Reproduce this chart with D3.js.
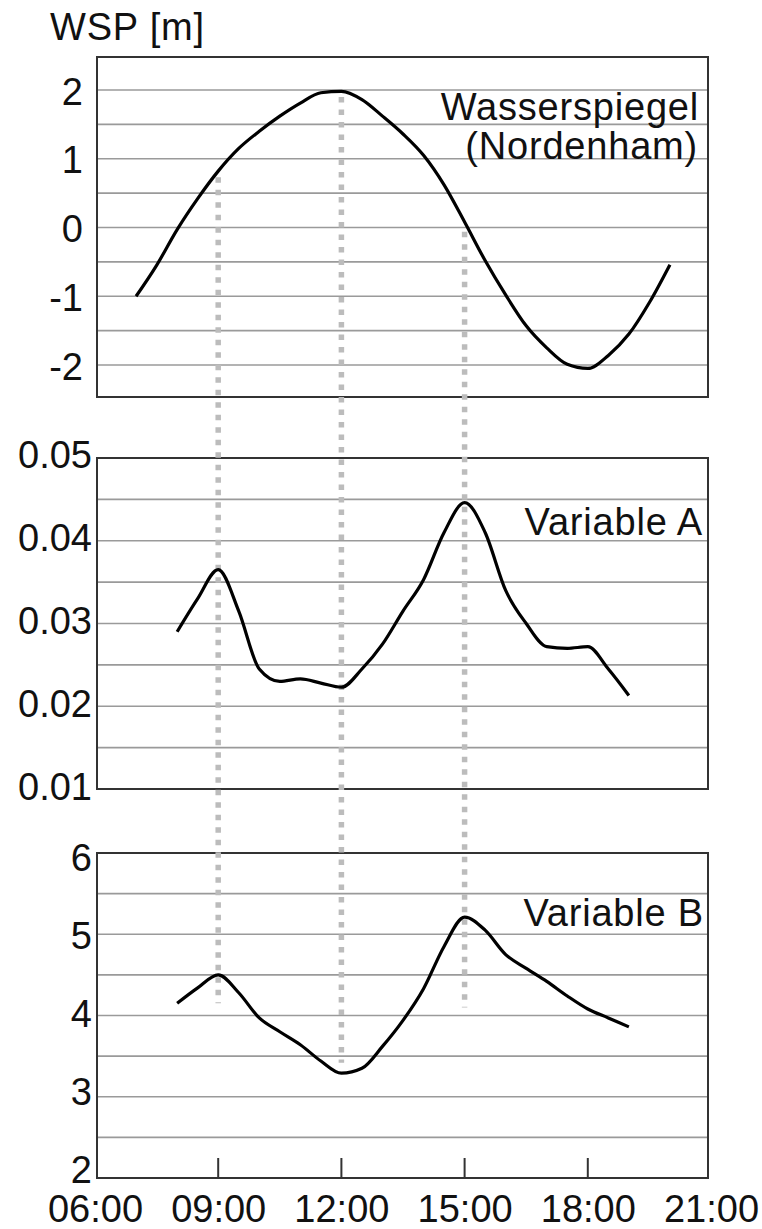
<!DOCTYPE html>
<html>
<head>
<meta charset="utf-8">
<script src="https://cdn.jsdelivr.net/npm/d3@7"></script>
<style>
    body { margin: 0; background: #fff; }
    svg { display: block; font-family: "Liberation Sans", Arial, Helvetica, sans-serif; }
</style>
</head>
<body>
<script>
// time of day in hours
var x_ticks = [6, 9, 12, 15, 18, 21];
var x_inner_ticks = [9, 12, 15, 18];

// Wasserspiegel (Nordenham), half hourly
var wsp_times = [7, 7.5, 8, 8.5, 9, 9.5, 10, 10.5, 11, 11.5, 12, 12.5, 13, 13.5,
    14, 14.5, 15, 15.5, 16, 16.5, 17, 17.5, 18, 18.5, 19, 19.5, 20];
var wsp_values = [-1.0, -0.55, -0.03, 0.42, 0.82, 1.15, 1.40, 1.62, 1.81, 1.96, 1.98, 1.86, 1.62, 1.36,
    1.05, 0.62, 0.08, -0.48, -0.98, -1.43, -1.75, -1.99, -2.05, -1.86, -1.55, -1.09, -0.54];

// Variable A / B, half hourly
var var_times = [8, 8.5, 9, 9.5, 10, 10.5, 11, 11.5, 12, 12.5, 13, 13.5,
    14, 14.5, 15, 15.5, 16, 16.5, 17, 17.5, 18, 18.5, 19];
var var_a_values = [0.0290, 0.0330, 0.0365, 0.0315, 0.0245, 0.0230, 0.0233, 0.0228, 0.0223, 0.0245, 0.0275, 0.0315,
    0.0353, 0.0410, 0.0446, 0.0410, 0.0340, 0.0300, 0.0272, 0.0270, 0.0272, 0.0245, 0.0213];
var var_b_values = [4.15, 4.34, 4.50, 4.28, 3.97, 3.80, 3.64, 3.44, 3.29, 3.35, 3.62, 3.94,
    4.33, 4.85, 5.21, 5.05, 4.75, 4.58, 4.42, 4.24, 4.08, 3.97, 3.86];

// y ticks and grid lines
var wsp_ticks = [-2, -1, 0, 1, 2];
var wsp_grid = [-2, -1.5, -1, -0.5, 0, 0.5, 1, 1.5, 2];
var a_ticks = [0.01, 0.02, 0.03, 0.04, 0.05];
var a_grid = [0.015, 0.02, 0.025, 0.03, 0.035, 0.04, 0.045];
var b_ticks = [2, 3, 4, 5, 6];
var b_grid = [2.5, 3, 3.5, 4, 4.5, 5, 5.5];

// dotted marker lines: time, start value (top panel), end value (bottom panel)
var marker_times = [9, 12, 15];
var marker_top = [0.73, 1.9, -0.06];
var marker_bottom = [4.15, 3.42, 4.1];

var W = 762, H = 1229;
var left = 97, right = 708;
var FONT = 38;

var svg = d3.select("body").append("svg")
    .attr("width", W).attr("height", H);

var x = d3.scaleLinear().domain([6, 21]).range([95, 711]);

function style_labels(sel) {
    sel.selectAll("text")
        .style("font-size", FONT + "px")
        .style("font-family", "Liberation Sans, Arial, sans-serif")
        .style("fill", "#111");
}

function draw_panel(holder, top, bottom, domain, grid, ticks, label_pad, fmt, label_range) {
    var y = d3.scaleLinear().domain(domain).range([bottom, top]);
    var g = holder.append("g");
    // grid
    g.selectAll("line.grid").data(grid).enter().append("line")
        .attr("class", "grid")
        .attr("x1", left).attr("x2", right)
        .attr("y1", function (d) { return y(d); })
        .attr("y2", function (d) { return y(d); })
        .attr("stroke", "#9a9a9a").attr("stroke-width", 1.6);
    // frame
    g.append("rect")
        .attr("x", left).attr("y", top)
        .attr("width", right - left).attr("height", bottom - top)
        .attr("fill", "none").attr("stroke", "#333").attr("stroke-width", 2);
    // tick labels (the labels sit a little inside the outer grid lines)
    var y_lab = label_range ? d3.scaleLinear().domain([ticks[0], ticks[ticks.length - 1]]).range(label_range) : y;
    var ax = d3.axisLeft(y_lab).tickValues(ticks).tickSize(0).tickPadding(label_pad).tickFormat(fmt);
    var a = g.append("g").attr("transform", "translate(" + left + ",0)").call(ax);
    a.select(".domain").remove();
    style_labels(a);
    return y;
}

var y_wsp = draw_panel(svg, 57, 397, [-2.465, 2.48], wsp_grid, wsp_ticks, 14,
    function (d) { return String(d); }, [367, 92]);
var y_a = draw_panel(svg, 458, 789, [0.01, 0.05], a_grid, a_ticks, 5, d3.format(".2f"), [787, 455]);
var y_b = draw_panel(svg, 853, 1178, [2, 6], b_grid, b_ticks, 5,
    function (d) { return String(d); }, [1170, 858]);

// inner x tick marks on bottom panel
svg.append("g").selectAll("line").data(x_inner_ticks).enter().append("line")
    .attr("x1", function (d) { return x(d); }).attr("x2", function (d) { return x(d); })
    .attr("y1", 1178).attr("y2", 1158)
    .attr("stroke", "#333").attr("stroke-width", 2);

// x labels
var xax = d3.axisBottom(x).tickValues(x_ticks).tickSize(0).tickPadding(17)
    .tickFormat(function (d) { return (d < 10 ? "0" : "") + d + ":00"; });
var xg = svg.append("g").attr("transform", "translate(0,1178)").call(xax);
xg.select(".domain").remove();
style_labels(xg);

// dotted markers across panels
svg.append("g").selectAll("line").data(marker_times).enter().append("line")
    .attr("x1", function (d) { return x(d); }).attr("x2", function (d) { return x(d); })
    .attr("y1", function (d, i) { return y_wsp(marker_top[i]); })
    .attr("y2", function (d, i) { return y_b(marker_bottom[i]); })
    .attr("stroke", "#bcbcbc").attr("stroke-width", 5.5)
    .attr("stroke-dasharray", "5.5,7");

// curves
function draw_curve(times, values, y) {
    var line = d3.line()
        .x(function (d) { return x(d[0]); })
        .y(function (d) { return y(d[1]); })
        .curve(d3.curveMonotoneX);
    svg.append("path")
        .datum(d3.zip(times, values))
        .attr("d", line)
        .attr("fill", "none").attr("stroke", "#000")
        .attr("stroke-width", 3.2).attr("stroke-linejoin", "round");
}
draw_curve(wsp_times, wsp_values, y_wsp);
draw_curve(var_times, var_a_values, y_a);
draw_curve(var_times, var_b_values, y_b);

// texts
function add_text(txt, xp, yp, anchor) {
    svg.append("text").text(txt)
        .attr("x", xp).attr("y", yp)
        .attr("text-anchor", anchor)
        .style("font-size", FONT + "px")
        .style("letter-spacing", "0.8px")
        .style("fill", "#111");
}
add_text("WSP [m]", 50, 40, "start");
add_text("Wasserspiegel", 699, 120, "end");
add_text("(Nordenham)", 698, 159, "end");
add_text("Variable A", 703, 535, "end");
add_text("Variable B", 704, 926, "end");
</script>
</body>
</html>
